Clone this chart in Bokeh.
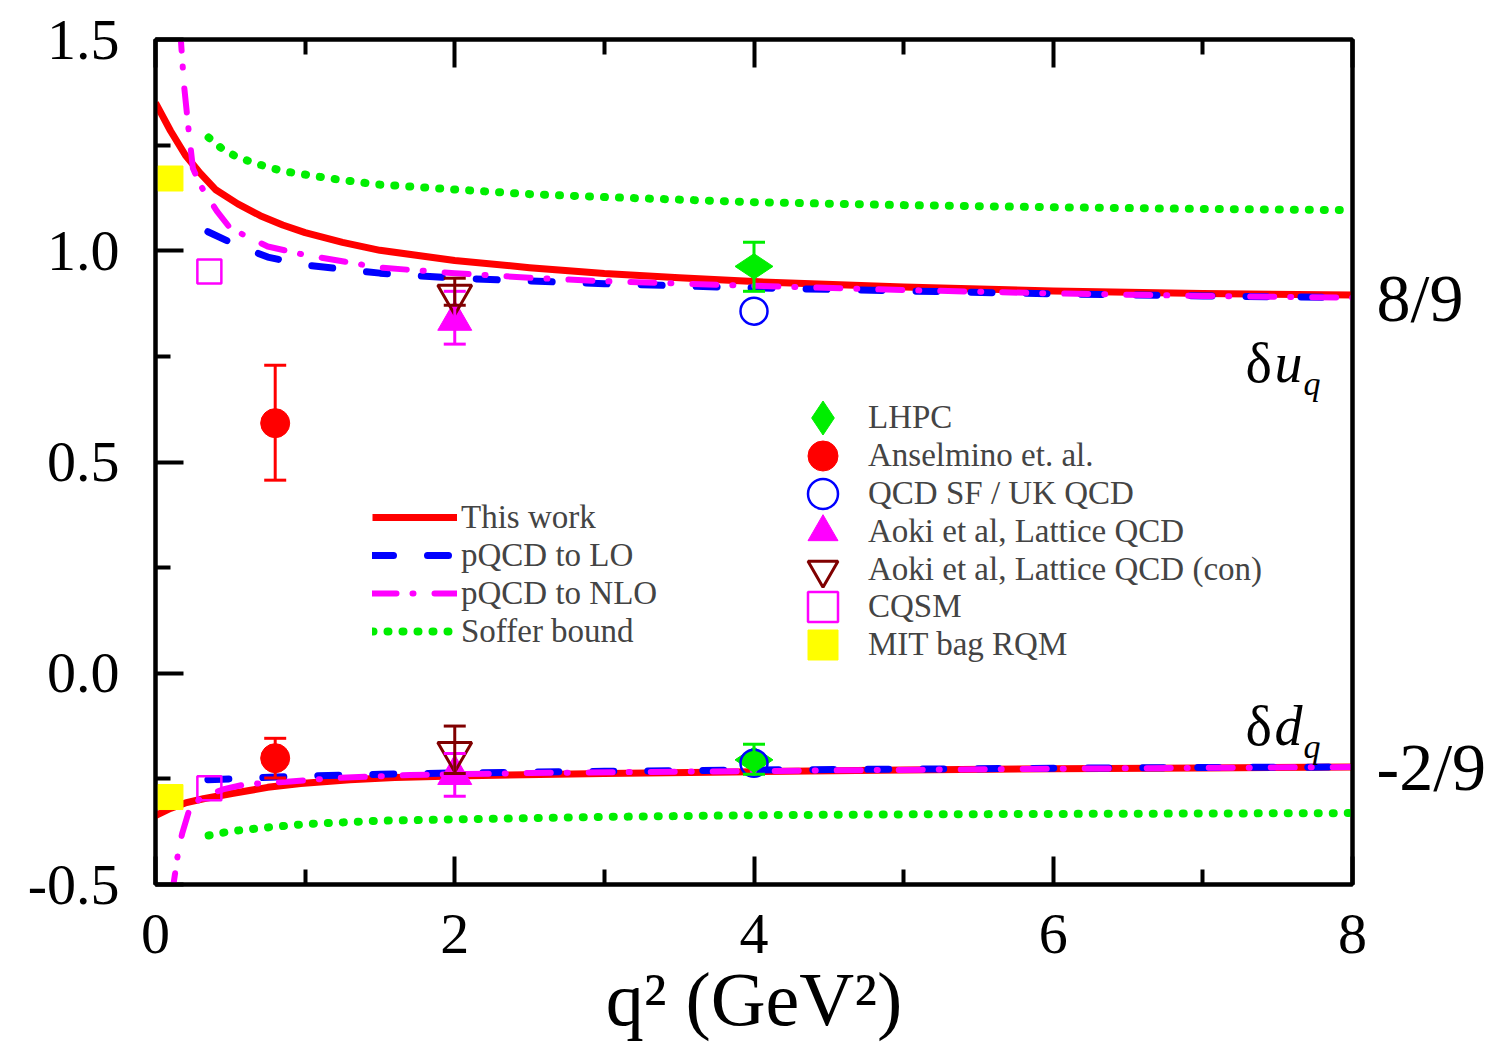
import numpy as np
from bokeh.plotting import figure
from bokeh.models import (Range1d, LinearAxis, FixedTicker, Legend, LegendItem, Label,
                          Whisker, TeeHead, ColumnDataSource, CustomJSTickFormatter)
from bokeh.embed import file_html
from bokeh.resources import INLINE

# ---------------- curves ----------------
tw_u_x = [0.0, 0.1, 0.2, 0.3, 0.4, 0.55, 0.7, 0.85, 1.0, 1.25, 1.5, 2.0, 2.5, 3.0, 3.5, 4.0, 5.0, 6.0, 7.0, 8.0]
tw_u_y = [1.35, 1.284, 1.226, 1.183, 1.145, 1.111, 1.083, 1.061, 1.043, 1.02, 1.001, 0.977, 0.96, 0.946, 0.936, 0.927, 0.914, 0.905, 0.899, 0.895]
tw_d_x = [0.0, 0.1, 0.2, 0.32, 0.52, 0.75, 0.97, 1.3, 1.6, 2.0, 3.0, 4.0, 5.0, 6.0, 7.0, 8.0]
tw_d_y = [-0.337, -0.32, -0.307, -0.297, -0.284, -0.27, -0.261, -0.252, -0.247, -0.243, -0.237, -0.233, -0.229, -0.226, -0.224, -0.222]

lo_u_x = [0.35, 0.5, 0.75, 1.0, 1.5, 2.0, 3.0, 4.0, 5.0, 6.0, 7.0, 8.0]
lo_u_y = [1.045, 1.02, 0.985, 0.966, 0.947, 0.935, 0.922, 0.912, 0.905, 0.898, 0.893, 0.889]
lo_d_x = [0.35, 0.5, 1.0, 1.5, 2.0, 3.0, 4.0, 5.0, 6.0, 7.0, 8.0]
lo_d_y = [-0.252, -0.25, -0.243, -0.239, -0.236, -0.232, -0.229, -0.227, -0.225, -0.223, -0.222]

nlo_u_x = [0.155, 0.17, 0.19, 0.22, 0.25, 0.3, 0.41, 0.5, 0.75, 1.0, 1.5, 2.0, 2.5, 3.0, 4.0, 5.0, 6.0, 7.0, 8.0]
nlo_u_y = [1.53, 1.497, 1.394, 1.29, 1.195, 1.155, 1.094, 1.053, 1.01, 0.99, 0.96, 0.947, 0.936, 0.928, 0.917, 0.907, 0.899, 0.893, 0.889]
nlo_d_x = [0.115, 0.12, 0.155, 0.18, 0.22, 0.3, 0.45, 0.6, 0.9, 1.2, 1.7, 2.5, 3.5, 4.5, 6.0, 7.0, 8.0]
nlo_d_y = [-0.53, -0.5, -0.415, -0.377, -0.33, -0.295, -0.275, -0.263, -0.256, -0.248, -0.241, -0.236, -0.233, -0.23, -0.226, -0.224, -0.222]

sof_u_x = [0.355, 0.45, 0.55, 0.66, 0.76, 0.86, 0.97, 1.17, 1.48, 2.0, 2.5, 3.0, 4.0, 5.0, 6.0, 7.0, 8.0]
sof_u_y = [1.268, 1.24, 1.221, 1.208, 1.197, 1.188, 1.182, 1.171, 1.157, 1.145, 1.134, 1.127, 1.115, 1.108, 1.103, 1.099, 1.096]
sof_d_x = [0.355, 0.5, 0.75, 1.0, 1.5, 2.0, 2.5, 3.0, 4.0, 5.0, 6.0, 7.0, 8.0]
sof_d_y = [-0.384, -0.374, -0.365, -0.357, -0.349, -0.346, -0.343, -0.34, -0.336, -0.334, -0.333, -0.332, -0.331]

# ---------------- data points ----------------
lhpc_x = [4.0, 4.0];   lhpc_y = [0.963, -0.205]; lhpc_lo = [0.904, -0.239]; lhpc_hi = [1.020, -0.168]
ans_x = [0.8, 0.8];    ans_y = [0.592, -0.201];  ans_lo = [0.457, -0.248];  ans_hi = [0.729, -0.154]
qsf_x = [4.0, 4.0];    qsf_y = [0.857, -0.213]
aoki_x = [2.0, 2.0];   aoki_y = [0.835, -0.24];  aoki_lo = [0.779, -0.291]; aoki_hi = [0.904, -0.19]
aokc_x = [2.0, 2.0];   aokc_y = [0.895, -0.187]; aokc_lo = [0.871, -0.237]; aokc_hi = [0.935, -0.125]
cqsm_x = [0.36, 0.36]; cqsm_y = [0.951, -0.272]
mit_x = [0.1, 0.1];    mit_y = [1.171, -0.293]

x_ticks = [0, 2, 4, 6, 8]
x_minor = [1, 3, 5, 7]
y_ticks = [-0.5, 0.0, 0.5, 1.0, 1.5]
y_minor = [-0.25, 0.25, 0.75, 1.25]
right_ticks = [8 / 9, -2 / 9]

x_title = "q² (GeV²)"
line_labels = ["This work", "pQCD to LO", "pQCD to NLO", "Soffer bound"]
point_labels = ["LHPC", "Anselmino et. al.", "QCD SF / UK QCD", "Aoki et al, Lattice QCD",
                "Aoki et al, Lattice QCD (con)", "CQSM", "MIT bag RQM"]

SERIF = "Liberation Serif"
RED, BLUE, MAG, GRN, BRN, YEL = "#FF0000", "#0000FF", "#FF00FF", "#00EE00", "#800000", "#FFFF00"

W, H = 1497, 1064
L, R, T, B = 155, 145, 39, 180

p = figure(width=W, height=H, output_backend="svg", toolbar_location=None,
           x_range=Range1d(0, 8), y_range=Range1d(-0.5, 1.5),
           min_border_left=L, min_border_right=R, min_border_top=T, min_border_bottom=B,
           background_fill_color="white", border_fill_color="white")
p.grid.visible = False
p.outline_line_color = "black"
p.outline_line_width = 4


def style_axis(ax, label_size="58px"):
    ax.axis_line_width = 4
    ax.axis_line_color = "black"
    ax.major_tick_line_width = 4
    ax.minor_tick_line_width = 4
    ax.major_tick_in = 28
    ax.major_tick_out = 0
    ax.minor_tick_in = 15
    ax.minor_tick_out = 0
    ax.major_label_text_font = SERIF
    ax.major_label_text_font_size = label_size
    ax.major_label_text_color = "black"


xb = p.xaxis[0]
xb.ticker = FixedTicker(ticks=x_ticks, minor_ticks=x_minor)
style_axis(xb)
xb.major_label_standoff = 30
xb.axis_label = x_title
xb.axis_label_text_font = SERIF
xb.axis_label_text_font_size = "76px"
xb.axis_label_text_font_style = "normal"
xb.axis_label_text_color = "black"
xb.axis_label_standoff = 1

yl = p.yaxis[0]
yl.ticker = FixedTicker(ticks=y_ticks, minor_ticks=y_minor)
yl.formatter = CustomJSTickFormatter(code="return tick.toFixed(1)")
style_axis(yl)
yl.major_label_standoff = 36

xt = LinearAxis(ticker=FixedTicker(ticks=x_ticks, minor_ticks=x_minor),
                formatter=CustomJSTickFormatter(code="return ''"))
style_axis(xt, "10px")
xt.major_label_standoff = 0
p.add_layout(xt, "above")

yr = LinearAxis(ticker=FixedTicker(ticks=right_ticks, minor_ticks=[]),
                formatter=CustomJSTickFormatter(code="return tick > 0 ? '8/9' : '-2/9'"))
style_axis(yr, "68px")
yr.major_tick_in = 0
yr.minor_tick_in = 0
yr.major_label_standoff = 24
p.add_layout(yr, "right")

# ---------------- curves ----------------
def curve(xs, ys, color, width, dash, cap="round"):
    return p.line(xs, ys, line_color=color, line_width=width, line_dash=dash, line_cap=cap,
                  line_join="round")

r_tw = curve(tw_u_x, tw_u_y, RED, 7, "solid", "butt")
curve(tw_d_x, tw_d_y, RED, 7, "solid", "butt")
r_lo = curve(lo_u_x, lo_u_y, BLUE, 7, "21 34")
curve(lo_d_x, lo_d_y, BLUE, 7, "21 34")
r_nlo = curve(nlo_u_x, nlo_u_y, MAG, 6, "24 16 1 21")
curve(nlo_d_x, nlo_d_y, MAG, 6, "24 16 1 21")
r_sof = curve(sof_u_x, sof_u_y, GRN, 8, "1 14")
curve(sof_d_x, sof_d_y, GRN, 8, "1 14")

# ---------------- error bars ----------------
def errbar(xs, lo, hi, color):
    src = ColumnDataSource(dict(x=xs, lower=lo, upper=hi))
    w = Whisker(base="x", lower="lower", upper="upper", source=src,
                line_color=color, line_width=3,
                upper_head=TeeHead(size=22, line_color=color, line_width=3),
                lower_head=TeeHead(size=22, line_color=color, line_width=3))
    w.level = "glyph"
    p.add_layout(w)

errbar(lhpc_x, lhpc_lo, lhpc_hi, GRN)
errbar(ans_x, ans_lo, ans_hi, RED)
errbar(aoki_x, aoki_lo, aoki_hi, MAG)
errbar(aokc_x, aokc_lo, aokc_hi, BRN)

# ---------------- markers ----------------
m_mit = p.scatter(mit_x, mit_y, marker="square", size=25, fill_color=YEL, line_color=YEL)
m_cqsm = p.scatter(cqsm_x, cqsm_y, marker="square", size=24, fill_color=None, line_color=MAG, line_width=2.5)
m_ans = p.scatter(ans_x, ans_y, marker="circle", size=29, fill_color=RED, line_color=RED)
m_aoki = p.scatter(aoki_x, aoki_y, marker="triangle", size=34, fill_color=MAG, line_color=MAG)
m_aokc = p.scatter(aokc_x, aokc_y, marker="inverted_triangle", size=34, fill_color=None, line_color=BRN, line_width=3)
m_lhpc = p.scatter(lhpc_x, lhpc_y, marker="diamond", angle=np.pi / 2, size=38, fill_color=GRN, line_color=GRN)
m_qsf = p.scatter(qsf_x, qsf_y, marker="circle", size=27, fill_color=None, line_color=BLUE, line_width=2.5)

# ---------------- legends ----------------
leg_lines = Legend(items=[LegendItem(label=t, renderers=[r]) for t, r in
                          zip(line_labels, [r_tw, r_lo, r_nlo, r_sof])],
                   location=(217, 234), glyph_width=85, glyph_height=38, label_height=38,
                   spacing=0, label_standoff=4, padding=0, margin=0,
                   border_line_color=None, background_fill_alpha=0,
                   label_text_font=SERIF, label_text_font_size="33px")
p.add_layout(leg_lines)

point_keys = [m_lhpc, m_ans, m_qsf, m_aoki, m_aokc, m_cqsm, m_mit]
for i, (t, r) in enumerate(zip(point_labels, point_keys)):
    gh = 85 if i == 0 else 75
    half = (gh - 75) // 2
    row_y = 418 + 37.8 * i          # row centre, canvas px
    leg = Legend(items=[LegendItem(label=t, renderers=[r])],
                 location=(630 - half, int(round((H - B) - (row_y + gh / 2)))),
                 glyph_width=gh, glyph_height=gh, label_height=38,
                 spacing=0, label_standoff=8 - half, padding=0, margin=0,
                 border_line_color=None, background_fill_alpha=0,
                 label_text_font=SERIF, label_text_font_size="33px")
    p.add_layout(leg)

# ---------------- text labels inside the frame (canvas px) ----------------
def lab(text, px, py, size, style="normal"):
    p.add_layout(Label(x=px, y=py, x_units="canvas", y_units="canvas", text=text,
                       text_font=SERIF, text_font_size=size,
                       text_font_style=style, text_color="black",
                       text_baseline="alphabetic", text_align="left"))

# delta u_q
lab("δ", 1245, 362, "56px")
lab("u", 1274, 362, "56px", "italic")
lab("q", 1303, 383, "34px", "italic")
# delta d_q
lab("δ", 1245, 725, "56px")
lab("d", 1274, 725, "56px", "italic")
lab("q", 1303, 746, "34px", "italic")

open("out.html", "w").write(file_html(p, INLINE))
